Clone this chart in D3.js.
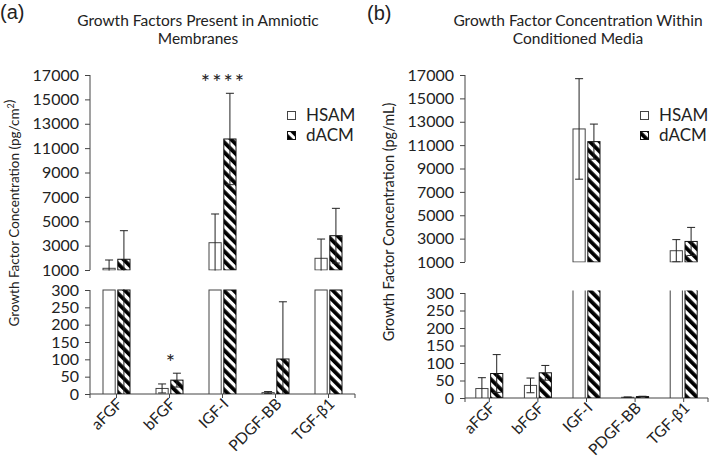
<!DOCTYPE html>
<html><head><meta charset="utf-8">
<script src="https://cdn.jsdelivr.net/npm/d3@7"></script>
<style>body{margin:0;background:#fff}svg text{font-family:Lato,"Open Sans",sans-serif;fill:#222}</style>
</head><body><svg id="c" width="709" height="461"></svg>
<script>
const categories = ["aFGF","bFGF","IGF-I","PDGF-BB","TGF-β1"];
const seriesNames = ["HSAM","dACM"];
// Panel (a): Growth factors present in amniotic membranes (pg/cm²)
const amnioticHSAM    = [1140, 16, 3240, 4, 1960];
const amnioticHSAMErr = [680, 13, 2355, 3, 1580];
const amnioticDACM    = [1880, 40, 11750, 101, 3815];
const amnioticDACMErr = [2345, 20, 3750, 165, 2245];
const amnioticSig     = ["", "*", "****", "", ""];
// Panel (b): Growth factor concentration within conditioned media (pg/mL)
const mediaHSAM    = [27, 36, 12385, 2, 1965];
const mediaHSAMErr = [31, 21, 4300, 1, 950];
const mediaDACM    = [70, 72, 11300, 4, 2760];
const mediaDACMErr = [54, 21, 1500, 1, 1200];
const mediaSig     = ["", "", "", "", ""];
const upperTicks = [1000,3000,5000,7000,9000,11000,13000,15000,17000];
const lowerTicks = [0,50,100,150,200,250,300];

const svg = d3.select("#c");
const defs = svg.append("defs");
const pat = defs.append("pattern").attr("id","hatch").attr("patternUnits","userSpaceOnUse")
  .attr("width",7).attr("height",7).attr("patternTransform","rotate(-45)");
pat.append("rect").attr("width",7).attr("height",7).attr("fill","#fff");
pat.append("rect").attr("width",3.8).attr("height",7).attr("fill","#000");

const panels = [
  {id:"a", letter:"(a)", lx:0, ly:19, title:["Growth Factors Present in Amniotic","Membranes"], tcx:198,
   ylab:"Growth Factor Concentration (pg/cm²)", ylx:14, yly:213, ylfs:13.5,
   x0:90, x1:355, up:[270,75], low:[394,290], openTop:false,
   data:[[amnioticHSAM,amnioticHSAMErr],[amnioticDACM,amnioticDACMErr]], sig:amnioticSig, legX:287},
  {id:"b", letter:"(b)", lx:367, ly:20, title:["Growth Factor Concentration Within","Conditioned Media"], tcx:578,
   ylab:"Growth Factor Concentration (pg/mL)", ylx:389, yly:222, ylfs:14.5,
   x0:465, x1:708, up:[262,75], low:[398,293], openTop:true,
   data:[[mediaHSAM,mediaHSAMErr],[mediaDACM,mediaDACMErr]], sig:mediaSig, legX:640}
];

panels.forEach(P => {
  const g = svg.append("g");
  g.append("text").attr("x",P.lx).attr("y",P.ly).attr("font-size",20)
    .style("font-family","'Liberation Sans',Arial,sans-serif").text(P.letter);
  P.title.forEach((t,i)=> g.append("text").attr("x",P.tcx).attr("y",26+17.5*i)
    .attr("text-anchor","middle").attr("font-size",15.5).text(t));
  g.append("text").attr("transform",`translate(${P.ylx},${P.yly}) rotate(-90)`)
    .attr("text-anchor","middle").attr("dy","0.35em").attr("font-size",P.ylfs)
    .html(P.ylab.replace("²","<tspan dy='-5' font-size='9'>2</tspan><tspan dy='5'></tspan>"));

  const x = d3.scaleBand().domain(categories).range([P.x0,P.x1]);
  const xs = d3.scaleBand().domain(seriesNames).range([-14,14]).paddingInner(0.11);
  const yU = d3.scaleLinear().domain([1000,17000]).range(P.up);
  const yL = d3.scaleLinear().domain([0,300]).range(P.low);
  const cx = c => x(c) + x.bandwidth()/2;

  const axU = g.append("g").attr("transform",`translate(${P.x0},0)`)
    .call(d3.axisLeft(yU).tickValues(upperTicks).tickSize(5).tickPadding(6).tickFormat(d3.format("d")));
  const axL = g.append("g").attr("transform",`translate(${P.x0},0)`)
    .call(d3.axisLeft(yL).tickValues(lowerTicks).tickSize(5).tickPadding(6).tickFormat(d3.format("d")));
  const axX = g.append("g").attr("transform",`translate(0,${P.low[0]})`)
    .call(d3.axisBottom(x).tickSize(0).tickFormat(""));
  [axU,axL].forEach(a=>{a.selectAll("path").attr("d",null);});
  axU.append("line").attr("x1",0).attr("x2",0).attr("y1",P.up[0]).attr("y2",P.up[1]);
  axL.append("line").attr("x1",0).attr("x2",0).attr("y1",P.low[0]).attr("y2",P.low[1]);
  axX.select("path").attr("d",`M${P.x0},0H${P.x1}`);
  [P.x0, P.x1].forEach(v=>axX.append("line").attr("x1",v).attr("x2",v).attr("y1",0).attr("y2",4));
  categories.forEach(c=>axX.append("line").attr("x1",cx(c)).attr("x2",cx(c)).attr("y1",0).attr("y2",4));
  axX.select("path").attr("stroke","#444");
  axU.selectAll("line").attr("stroke","#444"); axL.selectAll("line").attr("stroke","#444"); axX.selectAll("line").attr("stroke","#444");
  [axU,axL].forEach(a=>a.selectAll(".tick text").attr("font-size",16).attr("fill","#222")
     .style("font-family","Lato,sans-serif"));
  categories.forEach(c=>{
    g.append("text").attr("transform",`translate(${cx(c)+7},${P.low[0]+11}) rotate(-45)`)
      .attr("text-anchor","end").attr("font-size",15.5).text(c);
  });

  const cu = "cu"+P.id, cl = "cl"+P.id;
  defs.append("clipPath").attr("id",cu).append("rect").attr("x",P.x0).attr("width",P.x1-P.x0)
    .attr("y",P.up[1]-5).attr("height",P.up[0]-P.up[1]+5.5);
  defs.append("clipPath").attr("id",cl).append("rect").attr("x",P.x0).attr("width",P.x1-P.x0)
    .attr("y",P.openTop?P.low[1]-2.5:P.low[1]-1).attr("height",P.low[0]-P.low[1]+(P.openTop?2.5:1));
  const gU = g.append("g").attr("clip-path",`url(#${cu})`);
  const gL = g.append("g").attr("clip-path",`url(#${cl})`);

  seriesNames.forEach((s,si)=>{
    const [vals, errs] = P.data[si];
    const fill = si===0 ? "#fff" : "url(#hatch)";
    const stroke = si===0 ? "#444" : "#111";
    categories.forEach((c,i)=>{
      const v = vals[i], e = errs[i];
      const bx = cx(c) + xs(s), bw = xs.bandwidth();
      if (v > 1000) {
        gU.append("rect").attr("x",bx+0.5).attr("y",yU(v)).attr("width",bw-1).attr("height",yU(1000)-yU(v))
          .attr("fill",fill).attr("stroke",stroke).attr("stroke-width",1);
      }
      const top = v > 300 ? (P.openTop ? 310 : 300) : v;
      gL.append("rect").attr("x",bx+0.5).attr("y",yL(top)).attr("width",bw-1).attr("height",yL(0)-yL(top))
        .attr("fill",fill).attr("stroke",stroke).attr("stroke-width",1);
      [[gU,yU],[gL,yL]].forEach(([gg,yy])=>{
        const ex = bx + bw/2;
        gg.append("line").attr("x1",ex).attr("x2",ex).attr("y1",yy(v-e)).attr("y2",yy(v+e))
          .attr("stroke","#222").attr("stroke-width",1);
        [v-e, v+e].forEach(ev=> gg.append("line").attr("x1",ex-4).attr("x2",ex+4)
          .attr("y1",yy(ev)).attr("y2",yy(ev)).attr("stroke","#222").attr("stroke-width",1));
      });
    });
  });

  categories.forEach((c,i)=>{
    const mark = P.sig[i]; if (!mark) return;
    const [vals, errs] = P.data[1];
    const t = vals[i]+errs[i];
    const yy = t > 1000 ? yU(t) : yL(t);
    g.append("text").attr("x",cx(c)+1).attr("y",yy-3).attr("text-anchor","middle")
      .attr("font-size",22).attr("letter-spacing",mark.length>1?2:0).text(mark);
  });

  seriesNames.forEach((s,si)=>{
    const ly = 111 + si*20;
    g.append("rect").attr("x",P.legX+0.5).attr("y",ly+0.5).attr("width",8).attr("height",8)
      .attr("fill", si===0?"#fff":"url(#hatch)").attr("stroke",si===0?"#444":"#111");
    g.append("text").attr("x",P.legX+19).attr("y",ly+10).attr("font-size",17).text(s);
  });
});
</script></body></html>
